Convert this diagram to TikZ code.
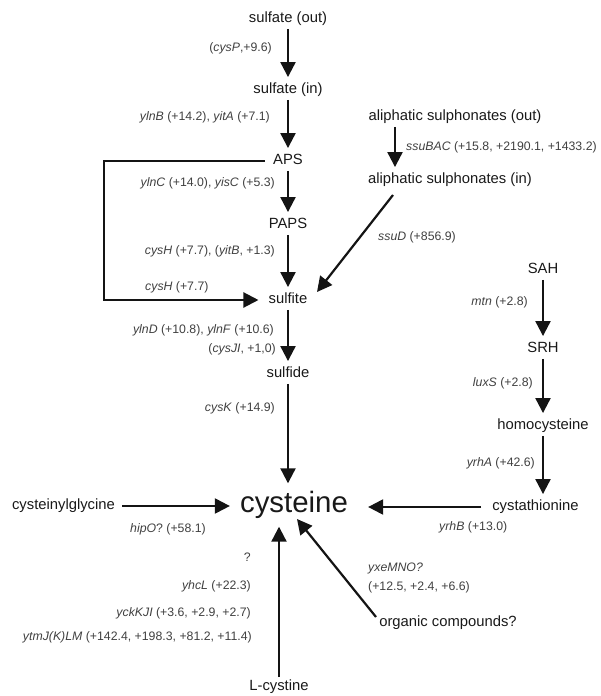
\documentclass[tikz,border=0pt]{standalone}
\usepackage{fontspec}
\setmainfont{Liberation Sans}
\usetikzlibrary{arrows.meta,calc}
\begin{document}
\begin{tikzpicture}[x=1pt, y=-1pt,
  met/.style={inner xsep=4pt, inner ysep=0pt, text height=10.5pt, text depth=3pt,
    font=\fontsize{14.8}{16}\selectfont, text=black!90},
  enz/.style={inner sep=0pt, font=\fontsize{12.3}{14}\selectfont, text=black!75},
  flow/.style={-{Triangle[width=15pt,length=15pt]}, line width=2.2pt, draw=black!92,
    shorten <=3pt, shorten >=6pt}]
  \useasboundingbox (0,0) rectangle (600,696);

  % Nodes
  \node[met] (sout) at (288,19) {sulfate (out)};
  \node[met] (sin) at (288,90) {sulfate (in)};
  \node[met] (aps) at (288,161) {APS};
  \node[met] (paps) at (288,225) {PAPS};
  \node[met] (sulfite) at (288,300) {sulfite};
  \node[met] (sulfide) at (288,374) {sulfide};
  \node[met, font=\fontsize{29.4}{32}\selectfont, text height=21pt, text depth=6pt,
    inner ysep=2pt] (cys) at (294,505) {cysteine};
  \node[met] (cysgly) at (63.5,506) {cysteinylglycine};
  \node[met] (lcys) at (279,687) {L-cystine};
  \node[met] (aout) at (455,117) {aliphatic sulphonates (out)};
  \node[met] (ain) at (450,180) {aliphatic sulphonates (in)};
  \node[met] (sah) at (543,270) {SAH};
  \node[met] (srh) at (543,349) {SRH};
  \node[met] (homo) at (543,426) {homocysteine};
  \node[met] (cysta) at (535.5,507) {cystathionine};
  \node[met] (org) at (448,623) {organic compounds?};

  % Enzymes
  \node[enz, anchor=east] (l-cysp) at (272,48) {(\textit{cysP},+9.6)};
  \node[enz, anchor=east] (l-ylnb) at (270,117) {\textit{ylnB} (+14.2), \textit{yitA} (+7.1)};
  \node[enz, anchor=east] (l-ylnc) at (275,183) {\textit{ylnC} (+14.0), \textit{yisC} (+5.3)};
  \node[enz, anchor=east] (l-cysh) at (275,251) {\textit{cysH} (+7.7), (\textit{yitB}, +1.3)};
  \node[enz, anchor=west] (l-cysh2) at (145,287) {\textit{cysH} (+7.7)};
  \node[enz, anchor=east] (l-ylnd) at (274,330) {\textit{ylnD} (+10.8), \textit{ylnF} (+10.6)};
  \node[enz, anchor=east] (l-cysji) at (276,349) {(\textit{cysJI}, +1,0)};
  \node[enz, anchor=east] (l-cysk) at (275,408) {\textit{cysK} (+14.9)};
  \node[enz, anchor=west] (l-hipo) at (130,529) {\textit{hipO}? (+58.1)};
  \node[enz, anchor=east] (l-q) at (251,557) {?};
  \node[enz, anchor=east] (l-yhcl) at (251,586) {\textit{yhcL} (+22.3)};
  \node[enz, anchor=east] (l-yckk) at (251,613) {\textit{yckKJI} (+3.6, +2.9, +2.7)};
  \node[enz, anchor=east] (l-ytmj) at (252,637) {\textit{ytmJ(K)LM} (+142.4, +198.3, +81.2, +11.4)};
  \node[enz, anchor=west] (l-ssubac) at (406,147) {\textit{ssuBAC} (+15.8, +2190.1, +1433.2)};
  \node[enz, anchor=west] (l-ssud) at (378,237) {\textit{ssuD} (+856.9)};
  \node[enz, anchor=east] (l-mtn) at (528,302) {\textit{mtn} (+2.8)};
  \node[enz, anchor=east] (l-luxs) at (533,383) {\textit{luxS} (+2.8)};
  \node[enz, anchor=east] (l-yrha) at (535,463) {\textit{yrhA} (+42.6)};
  \node[enz, anchor=west] (l-yrhb) at (439,527) {\textit{yrhB} (+13.0)};
  \node[enz, anchor=west] (l-yxe) at (368,568) {\textit{yxeMNO?}};
  \node[enz, anchor=west] (l-yxe2) at (368,587) {(+12.5, +2.4, +6.6)};

  % Edges
  \foreach \a/\b in {sout/sin, sin/aps, aps/paps, paps/sulfite, sulfite/sulfide, sah/srh, srh/homo}
    \draw[flow] (\a) -- (\b);
  \draw[flow] (sulfide) -- (sulfide |- cys.north);
  \draw[flow] (homo) -- (homo |- cysta.north);
  \draw[flow] (cysgly) -- (cysgly -| cys.west);
  \draw[flow, shorten <=7pt, shorten >=16pt] (cysta) -- (cysta -| cys.east);
  \draw[flow] (lcys) -- (lcys |- cys.south);
  \draw[flow] ([xshift=-60pt]aout.south) -- ([xshift=-55pt]ain.north);
  \draw[flow, shorten <=0pt, shorten >=0pt] ($(ain)+(-57,15)$) -- ($(sulfite)+(29,-8)$);
  \draw[flow, shorten <=0pt, shorten >=0pt] ($(org)+(-72,-6)$) -- ($(cys)+(3,14)$);
  \draw[flow, shorten <=4pt] (aps.west) -- ++(-165,0) |- (sulfite.west);
\end{tikzpicture}
\end{document}
